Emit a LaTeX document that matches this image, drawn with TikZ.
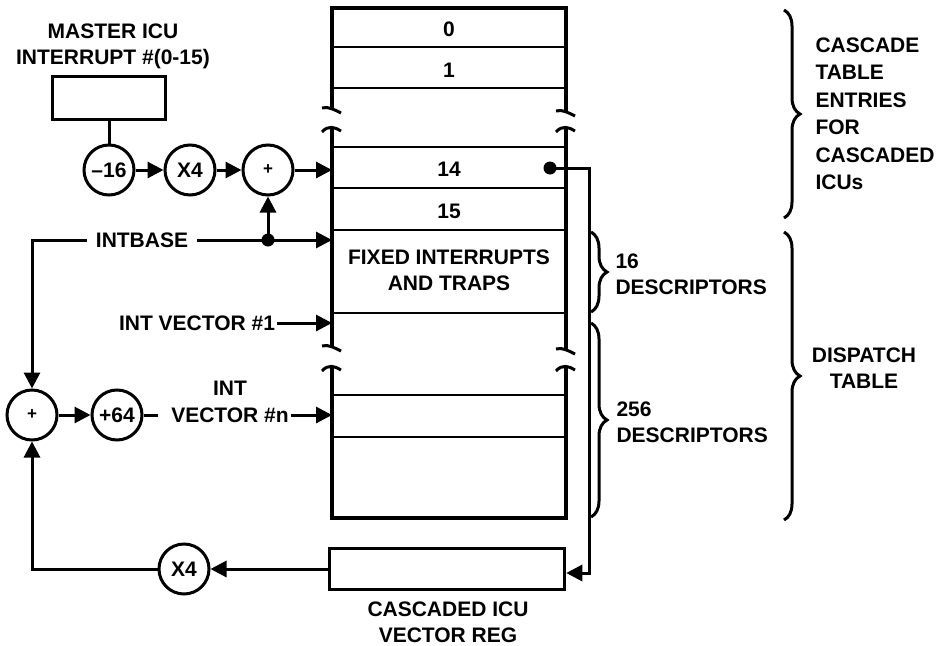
\documentclass[tikz,border=0pt]{standalone}
\usepackage{fontspec}
\setmainfont{Liberation Sans}
\usetikzlibrary{arrows.meta,decorations.pathreplacing}

\tikzset{
  every node/.style={font=\fontsize{21}{26}\selectfont\bfseries},
  op/.style={draw, circle, line width=3pt, minimum size=50pt, inner sep=0pt},
  regbox/.style={draw, rectangle, line width=3.5pt},
  line/.style={line width=3pt},
  arr/.style={line width=3pt, -{Triangle[length=16pt,width=16pt]}},
  brc/.style={line width=3pt, decorate, decoration={brace, amplitude=16pt}}
}

\begin{document}
\begin{tikzpicture}[x=1pt, y=-1pt]
  \useasboundingbox (0,0) rectangle (942,645);
  % table edges
  \coordinate (tl) at (332,0);
  \coordinate (tr) at (566,0);
  \draw[line width=3.5pt] (332,109) -- (332,8) -- (566,8) -- (566,112);
  \draw[line width=3.5pt] (332,128) -- (332,347);
  \draw[line width=3.5pt] (566,128) -- (566,350);
  \draw[line width=3.5pt] (332,367) -- (332,518) -- (566,518) -- (566,367);
  \foreach \y in {47,88,147,188,230,313,395,437}
    \draw[line width=2.5pt] (332,\y) -- (566,\y);
  % break marks
  \foreach \x/\y in {332/109, 566/112, 332/347, 566/350}
    \draw[line width=3pt] (\x-10,\y-1) .. controls (\x-4,\y-3) and (\x+3,\y+1) .. (\x+9,\y+4);
  \foreach \x/\y in {332/128, 566/128, 332/367, 566/367}
    \draw[line width=3pt] (\x-10,\y+4) .. controls (\x-4,\y-3) and (\x+3,\y-1) .. (\x+9,\y+3);
  % row labels
  \node (r0) at (449,29) {0};
  \node (r1) at (449,70) {1};
  \node (r14) at (449,169) {14};
  \node (r15) at (449,211) {15};
  \node[align=center] (fixed) at (449,270) {FIXED INTERRUPTS\\AND TRAPS};

  % master ICU input
  \node[align=center] (mlab) at (113,46) {MASTER ICU\\INTERRUPT \#(0-15)};
  \node[regbox, minimum width=113pt, minimum height=43pt] (master) at (109,98) {};
  \node[op] (sub) at (109,170) {--16};
  \node[op] (mul) at (190,170) {X4};
  \node[op, font=\fontsize{17}{17}\selectfont\bfseries] (add) at (268,170) {+};
  \draw[line] (master) -- (sub);
  \draw[arr] (sub) -- (mul);
  \draw[arr] (mul) -- (add);
  \draw[arr] (add) -- (add -| tl);

  % intbase
  \node[inner sep=9pt] (intbase) at (142,240) {INTBASE};
  \coordinate (dot) at (268,240);
  \draw[line] (intbase) -- (dot);
  \draw[arr] (dot) -- (dot -| tl);
  \draw[arr] (dot) -- (add);
  \fill (dot) circle (6.5);

  % interrupt vectors
  \node[op, font=\fontsize{17}{17}\selectfont\bfseries] (addb) at (32,415) {+};
  \node[op] (p64) at (117,415) {+64};
  \coordinate (stub) at (158,415);
  \node[inner sep=2pt] (iv1) at (197,323) {INT VECTOR \#1};
  \node[inner sep=2pt] (ivn) at (230,415) {VECTOR \#n};
  \node (int) at (230,388) {INT};
  \draw[arr] (intbase.west) -- (intbase.west -| addb) -- (addb);
  \draw[arr] (addb) -- (p64);
  \draw[line] (p64) -- (stub);
  \draw[arr] (iv1) -- (iv1 -| tl);
  \draw[arr] (ivn) -- (ivn -| tl);

  % cascaded ICU vector register
  \node[regbox, minimum width=235pt, minimum height=41pt] (vreg) at (447,569) {};
  \node[align=center] (vlab) at (448,622) {CASCADED ICU\\VECTOR REG};
  \node[op] (mulb) at (184,569) {X4};
  \coordinate (dot14) at (550,168);
  \coordinate (cas) at (589,573);
  \draw[arr] (dot14) -| (cas) -- (cas -| vreg.east);
  \fill (dot14) circle (6.5);
  \draw[arr] (vreg) -- (mulb);
  \draw[arr] (mulb) -| (addb);

  % braces
  \draw[brc] (784,10) -- (784,218);
  \draw[brc] (784,232) -- (784,520);
  \draw[brc] (591,232) -- (591,312);
  \draw[brc] (591,323) -- (591,517);
  \node[align=left, anchor=west, font=\fontsize{21}{27.5}\selectfont\bfseries] (caslab) at (812,114)
    {CASCADE\\TABLE\\ENTRIES\\FOR\\CASCADED\\ICUs};
  \node[align=center] (displab) at (864,368) {DISPATCH\\TABLE};
  \node[align=left, anchor=west] (d16) at (612,274) {16\\DESCRIPTORS};
  \node[align=left, anchor=west] (d256) at (613,422) {256\\DESCRIPTORS};
\end{tikzpicture}
\end{document}
